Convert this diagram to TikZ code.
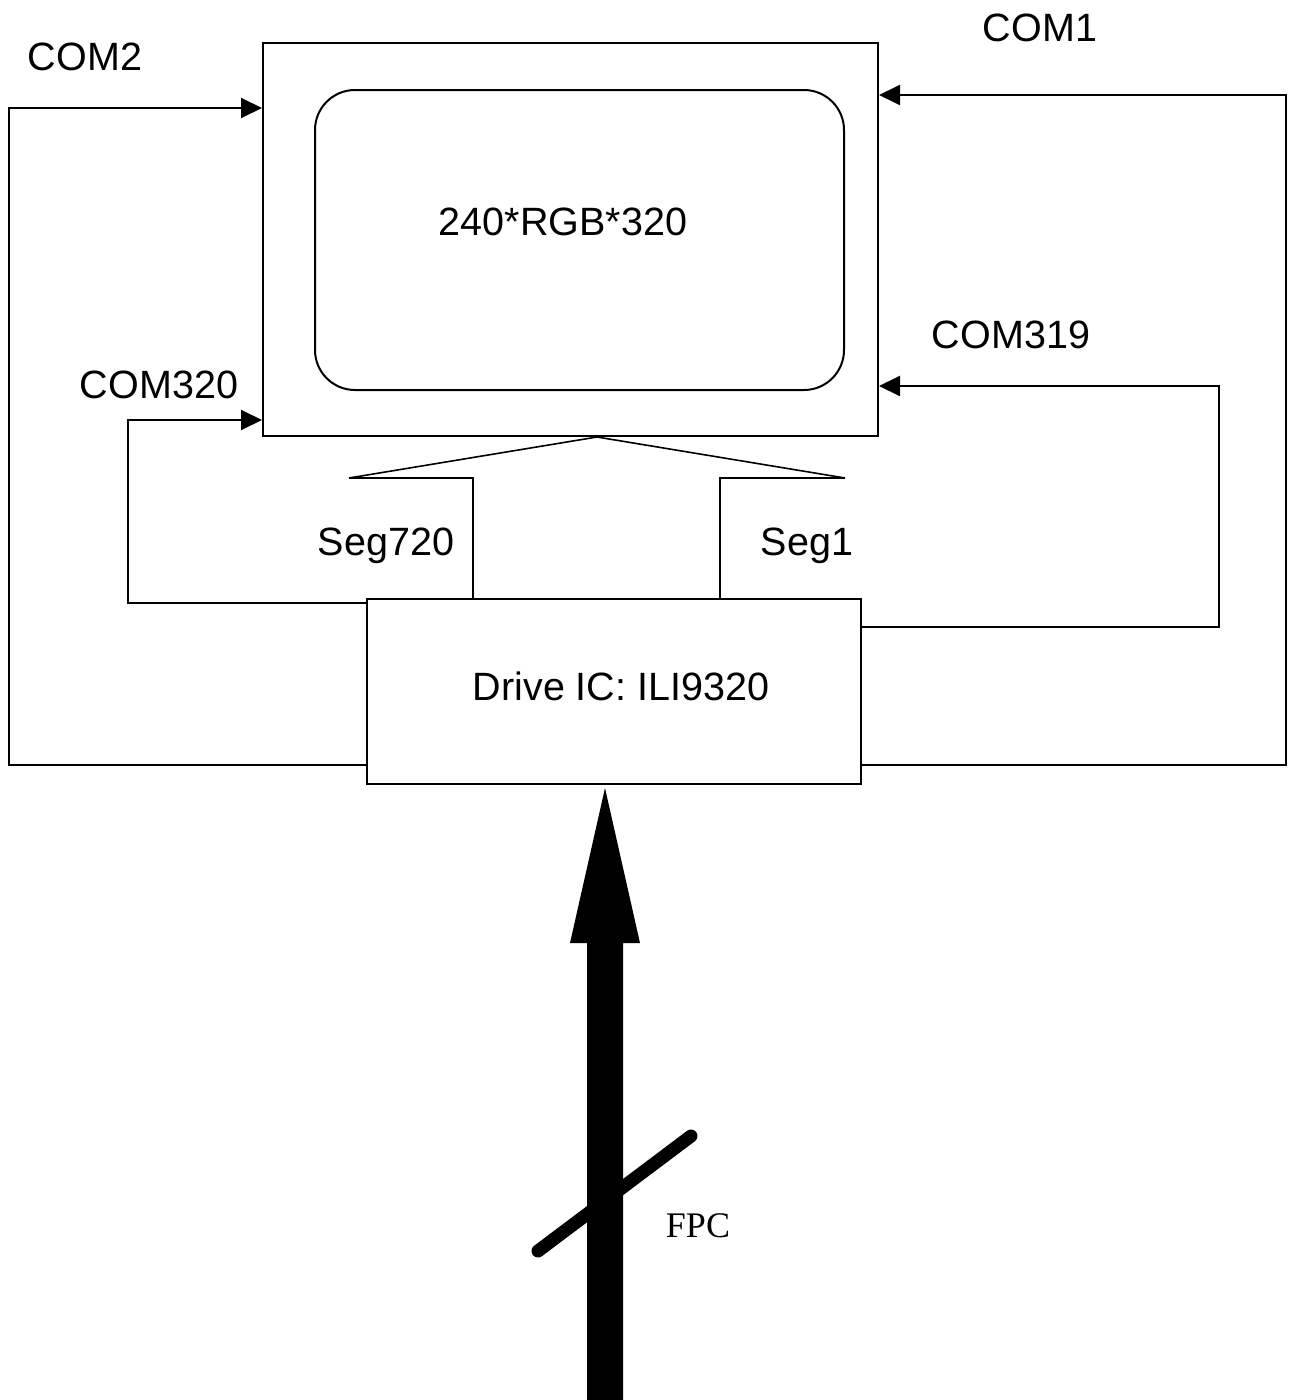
\documentclass[tikz,border=0pt]{standalone}
\usepackage{fontspec}
\setmainfont{Liberation Sans}
\newfontfamily\serifx{Liberation Serif}
\usetikzlibrary{arrows.meta}
\begin{document}
\begin{tikzpicture}[x=1pt,y=-1pt,
  lab/.style={inner sep=0pt,font=\fontsize{39.5}{45}\selectfont},
  boxx/.style={draw,line width=2pt,inner sep=0pt},
  conn/.style={line width=2pt},
  arr/.style={conn,-{Triangle[length=21pt,width=20pt]}}]
\useasboundingbox (0,0) rectangle (1288,1400);
% LCD panel
\node[boxx,minimum width=615pt,minimum height=393pt] (lcd) at (570.5,239.5) {};
\node[boxx,rounded corners=40pt,minimum width=529pt,minimum height=300pt] (panel) at (579.5,240) {};
\node[lab] (res) at (563,222) {240*RGB*320};
% Drive IC
\node[boxx,fill=white,minimum width=494pt,minimum height=185pt] (ic) at (614,691.5) {};
\node[lab] (ictxt) at (621,686) {Drive IC: ILI9320};
% fan
\coordinate (apex) at (lcd.south -| 597,0);
\coordinate (fl) at (349,478);
\coordinate (fr) at (845,478);
\coordinate (sl) at (473,478);
\coordinate (sr) at (720,478);
\draw[conn,line width=1.6pt] (fl) -- (apex) -- (fr);
\draw[conn,line width=1.6pt] (fl) -- (sl) -- (sl |- ic.north);
\draw[conn,line width=1.6pt] (fr) -- (sr) -- (sr |- ic.north);
% COM lines
\coordinate (c2s) at (ic.west |- 0,765);
\coordinate (c2c) at (9,765);
\coordinate (c2e) at (lcd.west |- 0,108);
\draw[arr] (c2s) -- (c2c) |- (c2e);
\coordinate (c1s) at (ic.east |- 0,765);
\coordinate (c1c) at (1286,765);
\coordinate (c1e) at (lcd.east |- 0,95);
\draw[arr] (c1s) -- (c1c) |- (c1e);
\coordinate (c319s) at (ic.east |- 0,627);
\coordinate (c319c) at (1219,627);
\coordinate (c319e) at (lcd.east |- 0,386);
\draw[arr] (c319s) -- (c319c) |- (c319e);
\coordinate (c320s) at (ic.west |- 0,603);
\coordinate (c320c) at (128,603);
\coordinate (c320e) at (lcd.west |- 0,420);
\draw[arr] (c320s) -- (c320c) |- (c320e);
% labels
\node[lab] (l2) at (85,57) {COM2};
\node[lab] (l1) at (1040,28) {COM1};
\node[lab] (l319) at (1011,335) {COM319};
\node[lab] (l320) at (159,385) {COM320};
\node[lab] (ls720) at (386,546) {Seg720};
\node[lab] (ls1) at (807,546) {Seg1};
% FPC bus
\coordinate (fpcb) at (605,1400);
\coordinate (fpct) at (ic.south -| 605,0);
\fill (587,1400) -- (587,943) -- (570,943) -- (605,788) -- (640,943) -- (623,943) -- (623,1400) -- cycle;
\coordinate (sa) at (538,1251);
\coordinate (sb) at (691,1136);
\draw[line width=13pt,line cap=round] (sa) -- (sb);
\node[inner sep=0pt,font=\serifx\fontsize{36}{40}\selectfont] (fpc) at (698,1226) {FPC};
\end{tikzpicture}
\end{document}
